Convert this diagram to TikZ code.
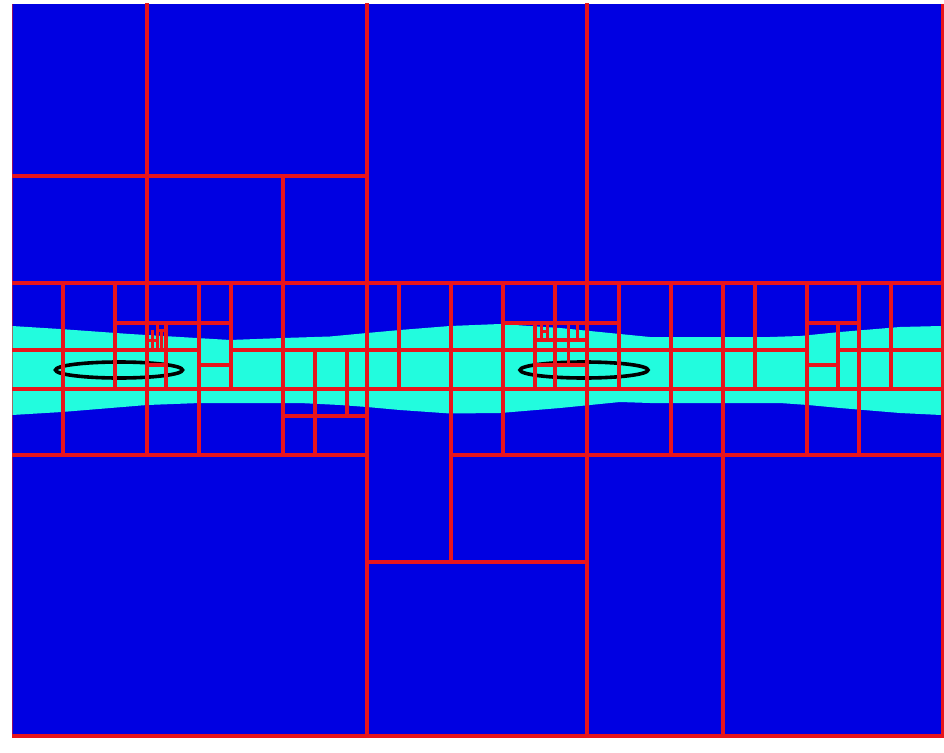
\documentclass[tikz,border=0pt]{standalone}
\definecolor{meshblue}{RGB}{0,0,226}
\definecolor{meshcyan}{RGB}{34,252,222}
\definecolor{meshred}{RGB}{232,20,28}
\tikzset{
  meshline/.style={draw=meshred, line width=4pt, line cap=rect},
  fineline/.style={draw=meshred, line width=3pt, line cap=rect},
  body/.style={draw=black, line width=3.6pt},
}
\begin{document}
\begin{tikzpicture}[x=1pt,y=-1pt]
\useasboundingbox (0,0) rectangle (944,752);
\fill[white] (0,0) rectangle (944,752);
% domain
\fill[meshblue] (12,4) rectangle (941,736);
% wake band
\fill[meshcyan] (12,326) -- (60,329) -- (130,334) -- (230,340) -- (283,338) -- (330,336.5) -- (367,333) -- (400,330) -- (450,326) -- (500,324) -- (560,328) -- (610,333) -- (650,337) -- (720,337) -- (770,337) -- (800,336) -- (840,332) -- (900,327) -- (941,326)
  -- (941,415) -- (900,413) -- (840,408) -- (808,405) -- (780,403) -- (720,403) -- (650,403) -- (620,402) -- (560,408) -- (500,413) -- (450,413.5) -- (400,410) -- (367,407) -- (340,405) -- (300,403) -- (283,403) -- (200,403) -- (147,405) -- (62,412) -- (12,415) -- cycle;
% bodies
\draw[body] (119,370) ellipse [x radius=63.5, y radius=8];
\draw[body] (584,370) ellipse [x radius=64, y radius=8];
\begin{scope}
\clip (12,4) rectangle (944,738.5);
% horizontal mesh lines
\foreach \y/\a/\b in {176/12/367, 283/12/941, 323/115/231, 323/503/619, 323/807/859,
  350/12/199, 350/231/807, 350/838/941, 365/199/231, 365/147/166, 365/535/587, 365/807/838,
  389/12/941, 416/283/367, 455/12/367, 455/451/941, 562/367/587}
  \draw[meshline] (\a,\y) -- (\b,\y);
% vertical mesh lines
\foreach \x/\a/\b in {63/283/455, 115/283/389, 147/4/455, 199/283/455, 231/283/389, 283/176/455,
  315/350/455, 347/350/416, 367/4/736, 399/283/389, 451/283/562, 503/283/455, 535/323/389,
  555/283/389, 587/4/736, 619/283/389, 671/283/455, 723/283/736, 755/283/389, 807/283/455,
  838/323/389, 859/283/455, 891/283/389}
  \draw[meshline] (\x,\a) -- (\x,\b);
% fine cells, left cluster
\draw[meshline] (166,323) -- (166,389);
\draw[fineline] (157,323) -- (157,350);
\draw[fineline] (152,331) -- (152,350);
\draw[fineline] (147,340) -- (157,340);
\draw[fineline] (157,330) -- (166,330);
\draw[fineline] (161.5,330) -- (161.5,350);
% fine cells, right cluster
\draw[meshline] (535,339.5) -- (587,339.5);
\draw[fineline] (568,323) -- (568,365);
\draw[fineline] (577,323) -- (577,339.5);
\draw[fineline] (541.5,323) -- (541.5,339.5);
\draw[fineline] (547,323) -- (547,339.5);
\draw[fineline] (541.5,331) -- (547,331);
% domain border
\draw[meshred, line width=3pt] (942,4) -- (942,738);
\draw[meshred, line width=4pt] (12,736) -- (944,736);
\end{scope}
\draw[meshred, line width=0.8pt, opacity=0.6] (12.4,4) -- (12.4,736);
\end{tikzpicture}
\end{document}
